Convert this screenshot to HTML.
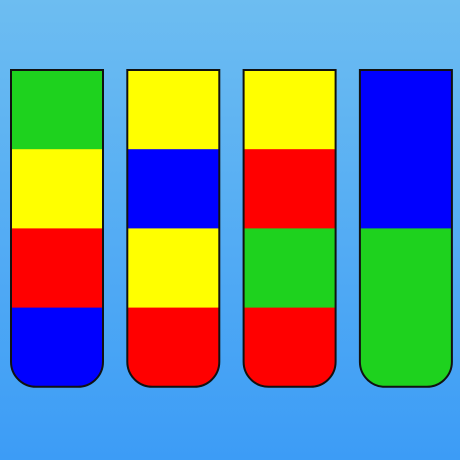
<!DOCTYPE html>
<html><head><meta charset="utf-8"><style>
html,body{margin:0;padding:0}
body{width:460px;height:460px;overflow:hidden;background:linear-gradient(#6dbdf1,#3c9cf6)}
svg{display:block}
</style></head><body>
<svg id="s" width="460" height="460"></svg>
<script>
const tubeColors=[
 ["green","yellow","red","blue"],
 ["yellow","blue","yellow","red"],
 ["yellow","red","green","red"],
 ["blue","blue","green","green"]
];
const palette={green:"#1ed21e",yellow:"#ffff00",red:"#ff0000",blue:"#0000ff"};
const NS="http://www.w3.org/2000/svg";
const svgEl=document.getElementById('s');
const x0=11,tw=92,gap=116.3,topY=70,segH=79.2,rad=25;
const H=segH*4;
function pathFor(x){
  return `M${x},${topY} H${x+tw} V${topY+H-rad} A${rad},${rad} 0 0 1 ${x+tw-rad},${topY+H} H${x+rad} A${rad},${rad} 0 0 1 ${x},${topY+H-rad} Z`;
}
tubeColors.forEach((tube,i)=>{
  const x=x0+i*gap;
  const g=document.createElementNS(NS,'g');
  
  
  const cp=document.createElementNS(NS,'clipPath');
  cp.setAttribute('id','c'+i);
  const p=document.createElementNS(NS,'path');p.setAttribute('d',pathFor(x));cp.appendChild(p);
  g.appendChild(cp);
  tube.forEach((c,j)=>{
    const rc=document.createElementNS(NS,'rect');
    
    
    rc.setAttribute('x',x);rc.setAttribute('y',topY+j*segH);
    rc.setAttribute('width',tw);rc.setAttribute('height',segH+0.5);
    rc.setAttribute('fill',palette[c]);rc.setAttribute('clip-path','url(#c'+i+')');
    g.appendChild(rc);
  });
  const o=document.createElementNS(NS,'path');
  
  
  o.setAttribute('d',pathFor(x));o.setAttribute('fill','none');
  o.setAttribute('stroke','#111');o.setAttribute('stroke-width','2');
  g.appendChild(o);
  svgEl.appendChild(g);
});
</script>
</body></html>
